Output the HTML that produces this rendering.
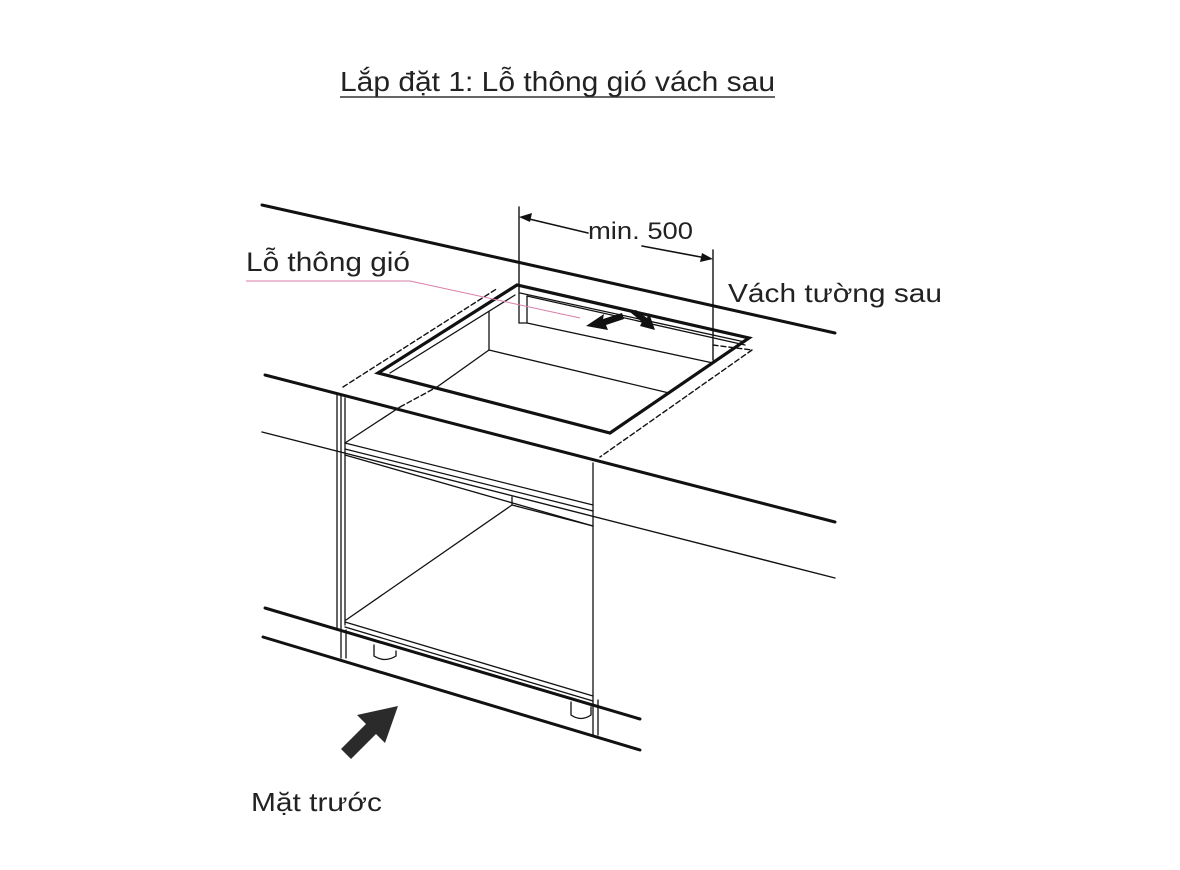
<!DOCTYPE html>
<html><head><meta charset="utf-8"><style>
html,body{margin:0;padding:0;background:#fff;}
svg{display:block}
text{font-family:"Liberation Sans",Arial,sans-serif;fill:#222}
</style></head><body>
<svg width="1180" height="870" viewBox="0 0 1180 870" xmlns="http://www.w3.org/2000/svg">
<rect width="1180" height="870" fill="#fff"/>
<text x="340" y="91" font-size="28" textLength="435" lengthAdjust="spacingAndGlyphs">Lắp đặt 1: Lỗ thông gió vách sau</text>
<line x1="340" y1="97" x2="775" y2="97" stroke="#333" stroke-width="1.6"/>

<g fill="none" stroke="#111" stroke-linecap="round">
<line x1="262" y1="205" x2="835" y2="333" stroke-width="3"/>
<line x1="265" y1="375" x2="835" y2="522" stroke-width="3"/>
<line x1="262" y1="432" x2="835" y2="578" stroke-width="1.4"/>
<line x1="265" y1="608" x2="640" y2="719" stroke-width="3"/>
<line x1="263" y1="637" x2="640" y2="750" stroke-width="3"/>

<polygon points="378,373 517,285 749,338 610,433" stroke-width="3.2" stroke-linejoin="miter"/>
<polyline points="390,373 515,295" stroke-width="1.3"/>
<polyline points="520,293 745,342" stroke-width="1.3"/>
<line x1="489" y1="312" x2="489" y2="350" stroke-width="1.3"/>
<line x1="489" y1="350" x2="669" y2="393" stroke-width="1.3"/>
<line x1="489" y1="350" x2="437" y2="387" stroke-width="1.3"/>
<polyline points="519,290 519,323 527,323 713,363" stroke-width="1.3"/>
<polyline points="527,296 527,323" stroke-width="1.3"/>
<line x1="527" y1="296" x2="745" y2="345" stroke-width="1.3"/>
<g stroke-dasharray="5,3" stroke-width="1.4">
<line x1="343" y1="387" x2="498" y2="288"/>
<line x1="400" y1="407" x2="437" y2="387"/>
<line x1="752" y1="350" x2="600" y2="457"/>
<line x1="713" y1="345" x2="752" y2="350"/>
</g>
<line x1="519" y1="207" x2="519" y2="290" stroke-width="1.4"/>
<line x1="713" y1="250" x2="713" y2="360" stroke-width="1.4"/>
<line x1="525" y1="218" x2="588" y2="233" stroke-width="1.6"/>
<line x1="642" y1="246" x2="706" y2="258" stroke-width="1.6"/>

<line x1="337" y1="395" x2="337" y2="630" stroke-width="1.3"/>
<line x1="341" y1="395" x2="341" y2="630" stroke-width="1.3"/>
<line x1="345" y1="398" x2="345" y2="625" stroke-width="1.3"/>
<line x1="341" y1="630" x2="341" y2="658" stroke-width="1.3"/>
<line x1="346" y1="630" x2="346" y2="658" stroke-width="1.3"/>
<line x1="593" y1="463" x2="593" y2="735" stroke-width="1.3"/>
<line x1="598" y1="700" x2="598" y2="735" stroke-width="1.3"/>
<line x1="345" y1="443" x2="593" y2="505" stroke-width="1.3"/>
<line x1="345" y1="449" x2="593" y2="511" stroke-width="1.3"/>
<line x1="345" y1="455" x2="593" y2="526" stroke-width="1.3"/>
<line x1="345" y1="443" x2="400" y2="407" stroke-width="1.3"/>
<polyline points="512,497 512,505 593,526" stroke-width="1.3"/>
<line x1="512" y1="505" x2="346" y2="620" stroke-width="1.3"/>
<line x1="345" y1="622" x2="593" y2="696" stroke-width="1.3"/>
<line x1="345" y1="627" x2="593" y2="701" stroke-width="1.3"/>
<line x1="340" y1="630" x2="593" y2="706" stroke-width="1.3"/>
<path d="M374,645 V656 Q385,663 396,656 V651" stroke-width="1.3"/>
<path d="M571,702 V715 Q581,722 591,715 V707" stroke-width="1.3"/>
</g>

<polyline points="246,281 410,281 580,318" fill="none" stroke="#d87fa8" stroke-width="1"/>

<polygon points="586,326 604,314 603,319 622,313 624,319 606,325 608,330" fill="#111"/>
<polygon points="655,330 640,326 642,322 630,312 636,310 647,318 649,313" fill="#111"/>
<polygon points="519,217 532,213 530,222" fill="#111"/>
<polygon points="713,259 700,262 702,253" fill="#111"/>

<polygon points="398,706 385,743 376,734 351,759 341,749 366,724 357,715" fill="#2b2b2b"/>

<text x="246" y="271" font-size="27" textLength="164" lengthAdjust="spacingAndGlyphs">Lỗ thông gió</text>
<text x="588" y="239" font-size="24" textLength="105" lengthAdjust="spacingAndGlyphs">min. 500</text>
<text x="728" y="302" font-size="26" textLength="214" lengthAdjust="spacingAndGlyphs">Vách tường sau</text>
<text x="251" y="811" font-size="26" textLength="131" lengthAdjust="spacingAndGlyphs">Mặt trước</text>
</svg>
</body></html>
